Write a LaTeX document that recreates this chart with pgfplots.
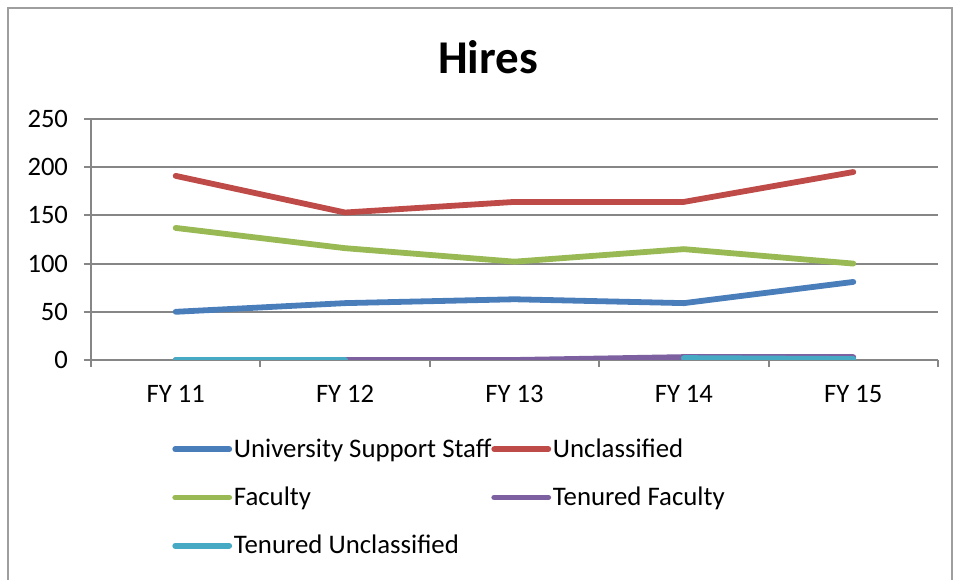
\documentclass[border=0pt]{standalone}
\usepackage{pgfplots}
\pgfplotsset{compat=1.18}
\usepackage{fontspec}
\setmainfont{Carlito}
\definecolor{cBlue}{HTML}{4A7EBB}
\definecolor{cRed}{HTML}{BE4B48}
\definecolor{cGreen}{HTML}{98B954}
\definecolor{cPurple}{HTML}{7D60A0}
\definecolor{cCyan}{HTML}{46AAC5}
\definecolor{cGrid}{HTML}{868686}
\begin{document}
\begin{tikzpicture}
\useasboundingbox (0,0) rectangle (479bp,290bp);
\draw[cGrid!80, line width=0.8bp] (4bp,-2bp) -- (4bp,286bp) -- (476bp,286bp) -- (476bp,-2bp);
\node[font=\fontsize{23.5bp}{28bp}\selectfont\bfseries] at (244bp,261.5bp) {Hires};
\begin{axis}[
  at={(45.5bp,110bp)}, anchor=south west,
  scale only axis, width=423.5bp, height=120.5bp,
  xmin=-0.5, xmax=4.5, ymin=0, ymax=250,
  axis x line*=bottom, axis y line*=left,
  axis line style={cGrid, line width=1bp},
  xtick={-0.5,0.5,1.5,2.5,3.5,4.5},
  x tick label as interval,
  xticklabels={FY 11,FY 12,FY 13,FY 14,FY 15},
  ytick={0,50,100,150,200,250},
  ymajorgrids, grid style={cGrid, line width=1bp},
  tick align=outside, major tick length=3.5bp,
  tick style={cGrid, line width=1bp},
  /pgf/number format/assume math mode=true,
  ticklabel style={font=\fontsize{13.3bp}{16bp}\selectfont},
  yticklabel style={xshift=-4.5bp},
  xticklabel style={yshift=-5.5bp},
  every axis plot/.append style={line width=2.9bp, line join=round, line cap=round},
  unbounded coords=jump,
  legend columns=2,
  legend cell align=left,
  legend style={at={(0.0885,-0.30)}, anchor=north west, draw=none, fill=none,
    font=\fontsize{13.4bp}{16bp}\selectfont,
    row sep=11.5bp,
    /tikz/every even column/.append style={column sep=-1bp},
    nodes={inner sep=0.9bp}},
  legend image code/.code={\draw[#1] (0bp,0bp) -- (27bp,0bp);},
]
\addplot[cBlue] coordinates {(0,50) (1,59) (2,63) (3,59) (4,81)};
\addlegendentry{University Support Staff}
\addplot[cRed] coordinates {(0,191) (1,153) (2,164) (3,164) (4,195)};
\addlegendentry{Unclassified}
\addplot[cGreen] coordinates {(0,137) (1,116) (2,102) (3,115) (4,100)};
\addlegendentry{Faculty}
\addplot[cPurple] coordinates {(0,0) (1,0) (2,0) (3,3) (4,3)};
\addlegendentry{Tenured Faculty}
\addplot[cCyan] coordinates {(0,0) (1,0) (2,nan) (3,2) (4,1)};
\addlegendentry{Tenured Unclassified}
\end{axis}
\end{tikzpicture}
\end{document}
